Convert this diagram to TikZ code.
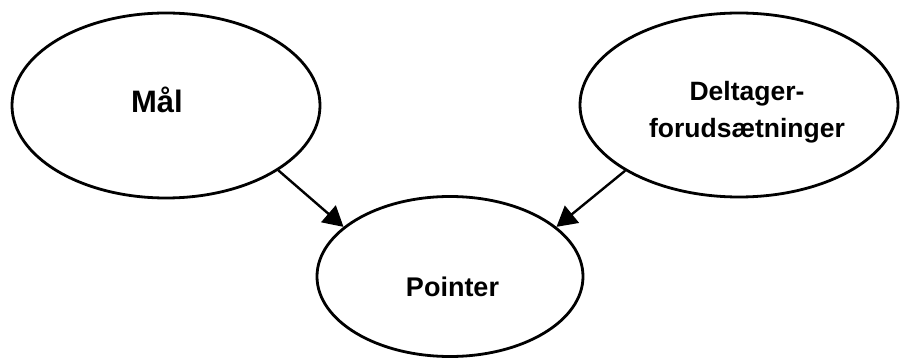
\documentclass[tikz,border=0pt]{standalone}
\usepackage{fontspec}
\setmainfont{Liberation Sans}
\usetikzlibrary{shapes.geometric,arrows.meta}
\begin{document}
\begin{tikzpicture}[x=1pt,y=-1pt,
  ell/.style={draw=black,ellipse,line width=2.8pt,inner sep=0pt,fill=white},
  lbl/.style={inner sep=0pt,font=\bfseries},
  conn/.style={line width=2.4pt,-{Triangle[length=20pt,width=22pt]}}]
\useasboundingbox[fill=white] (0,0) rectangle (900,358);
\node[ell,minimum width=308pt,minimum height=185pt] (mal) at (166,105.5) {};
\node[ell,minimum width=318pt,minimum height=184pt] (del) at (739,105) {};
\node[ell,minimum width=266pt,minimum height=160pt] (ptr) at (450,276.5) {};
\node[lbl,anchor=base,font=\bfseries\fontsize{31}{36}\selectfont] (malt) at (157,113) {Mål};
\node[lbl,align=center,font=\bfseries\fontsize{26.5}{37}\selectfont] (delt) at (747,112) {Deltager-\\forudsætninger};
\node[lbl,anchor=base,font=\bfseries\fontsize{27}{32}\selectfont] (ptrt) at (452.5,296) {Pointer};
\draw[conn] (mal.-30.6) -- (ptr.155);
\draw[conn] (del.210.4) -- (ptr.25.3);
\end{tikzpicture}
\end{document}
